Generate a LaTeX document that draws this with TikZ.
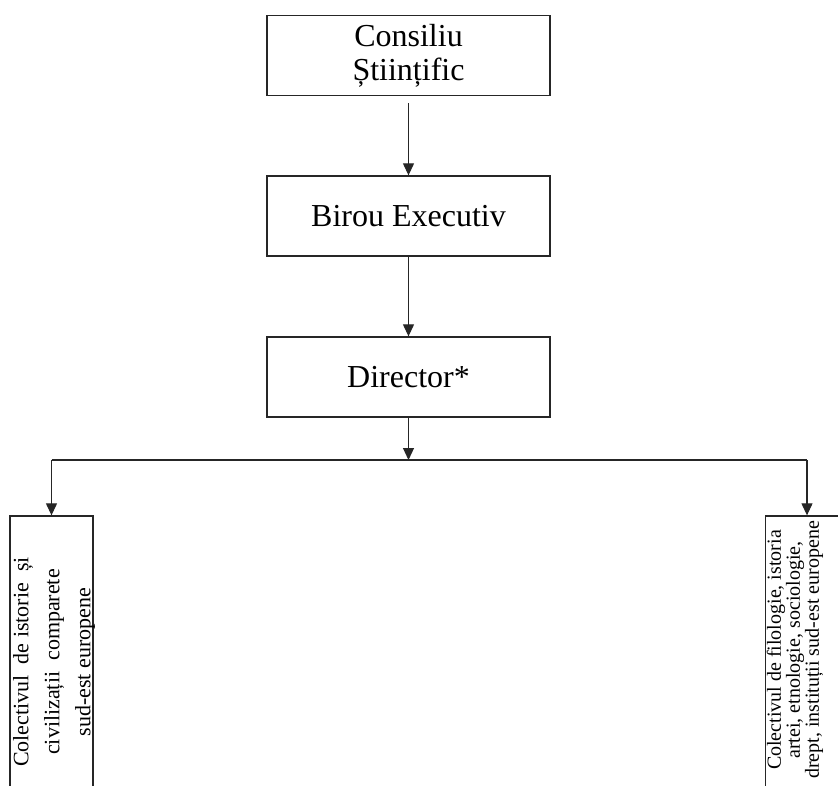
\documentclass[tikz,border=0pt]{standalone}
\usepackage{fontspec}
\setmainfont{Liberation Serif}
\usetikzlibrary{arrows.meta}
\tikzstyle{bx}=[rectangle,draw=black!85,line width=1.3pt,minimum width=283pt,
  minimum height=80pt,inner sep=0pt,align=center,font=\fontsize{32}{34}\selectfont]
\tikzstyle{cb}=[rectangle,draw=black!85,line width=1.3pt,minimum width=83pt,
  minimum height=292pt,inner sep=0pt]
\tikzstyle{ar}=[-{Triangle[length=12pt,width=11pt]},line width=1.1pt,draw=black!85]

\begin{document}
\begin{tikzpicture}[x=1pt,y=-1pt]
    \useasboundingbox (0,0) rectangle (838,785);
    \node [style=bx] (consiliu) at (408.5,55.5) {Consiliu\\Științific};
    \node [style=bx] (birou) at (408.5,216) {Birou Executiv};
    \node [style=bx] (director) at (408.5,377) {Director*};
    \node [style=cb] (colist) at (51.5,662) {};
    \node [style=cb] (colfil) at (807,662) {};
    \node [rotate=90,align=center,font=\fontsize{22}{31}\selectfont] (colist-t) at (54,662)
      {Colectivul\ \ de istorie\ \ și\\civilizații\ \ comparete\\sud-est europene};
    \node [rotate=90,align=center,font=\fontsize{20}{19}\selectfont] (colfil-t) at (795,650)
      {Colectivul de filologie,\ istoria\\artei, etnologie, sociologie,\\drept, instituții sud-est europene};
    \coordinate (bus) at (408.5,460);
    \coordinate (busl) at (51.5,460);
    \coordinate (busr) at (807,460);
    \draw [style=ar,shorten <=7pt] (consiliu) to (birou);
    \draw [style=ar] (birou) to (director);
    \draw [style=ar] (director) to (bus);
    \draw [line width=1.1pt,draw=black!85] (busl) to (busr);
    \draw [style=ar] (busl) to (colist);
    \draw [style=ar] (busr) to (colfil);
  \end{tikzpicture}
\end{document}
